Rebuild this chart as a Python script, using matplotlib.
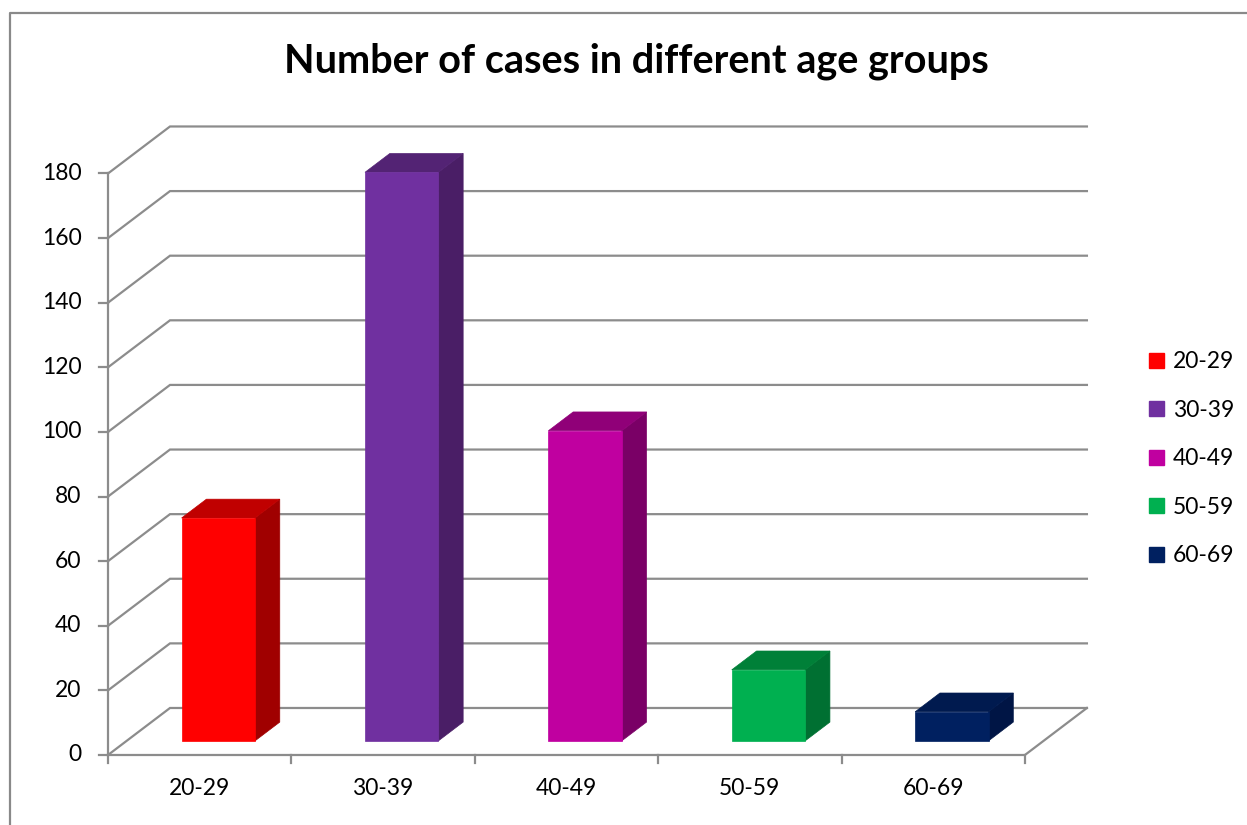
import matplotlib
matplotlib.use("Agg")
import matplotlib.pyplot as plt
from matplotlib.patches import Polygon, Patch
from matplotlib.lines import Line2D

# data
age_groups = ["20-29", "30-39", "40-49", "50-59", "60-69"]
cases = [69, 176, 96, 22, 9]
y_ticks = list(range(0, 181, 20))

front_colors = ["#FF0000", "#7030A0", "#C000A0", "#00B050", "#002060"]
top_colors = ["#C00000", "#532374", "#900078", "#008038", "#001A4F"]
side_colors = ["#A00000", "#4A1E66", "#7A0066", "#007032", "#001545"]

GRID = "#8C8C8C"
FONT = "Lato"
LABEL_SIZE = 16.5

# oblique projection of the depth axis (in category / value units)
DX = 0.338
DY = 14.55
BAR_W = 0.4
D0, D1 = 0.3, 0.7  # bar starts / ends along the depth axis


def project(x, y, d):
    return (x + d * DX, y + d * DY)


fig = plt.figure(figsize=(12.47, 8.25), dpi=100)
ax = fig.add_axes([0, 0, 1, 1])
ax.set_xlim(-0.589, 6.211)
ax.set_ylim(-21.67, 233.7)
ax.axis("off")

n = len(age_groups)

# walls: side + back gridlines
for v in y_ticks:
    ax.plot([0, DX, n + DX], [v, v + DY, v + DY], color=GRID, lw=1.6,
            solid_joinstyle="miter", zorder=1)
    ax.plot([-0.049, 0], [v, v], color=GRID, lw=1.6, zorder=1)
    ax.text(-0.145, v, str(v), ha="right", va="center", fontsize=LABEL_SIZE,
            family=FONT, color="black")

# floor front edge + right edge, left axis line
ax.plot([0, n, n + DX], [0, 0, DY], color=GRID, lw=1.6,
        solid_joinstyle="miter", zorder=1)
ax.plot([0, 0], [0, y_ticks[-1]], color=GRID, lw=1.6, zorder=1)
for i in range(n + 1):
    ax.plot([i, i], [0, -2.5], color=GRID, lw=1.6, zorder=1)

# 3D bars
for i, (val, fc, tc, sc) in enumerate(zip(cases, front_colors, top_colors, side_colors)):
    x0 = i + 0.5 - BAR_W / 2
    x1 = i + 0.5 + BAR_W / 2
    front = [project(x0, 0, D0), project(x1, 0, D0),
             project(x1, val, D0), project(x0, val, D0)]
    top = [project(x0, val, D0), project(x1, val, D0),
           project(x1, val, D1), project(x0, val, D1)]
    side = [project(x1, 0, D0), project(x1, 0, D1),
            project(x1, val, D1), project(x1, val, D0)]
    ax.add_patch(Polygon(side, closed=True, facecolor=sc, edgecolor=sc, lw=0.5, zorder=3))
    ax.add_patch(Polygon(top, closed=True, facecolor=tc, edgecolor=tc, lw=0.5, zorder=3))
    ax.add_patch(Polygon(front, closed=True, facecolor=fc, edgecolor=fc, lw=0.5, zorder=4))
    ax.text(i + 0.5, -10.5, age_groups[i], ha="center", va="center",
            fontsize=LABEL_SIZE, family=FONT, color="black")

ax.text(2.879, 214.6, "Number of cases in different age groups", ha="center",
        va="center", fontsize=28.5, fontweight="bold", family=FONT)

handles = [Patch(facecolor=c, edgecolor=c) for c in front_colors]
fig.legend(handles, age_groups, loc="center left", bbox_to_anchor=(0.912, 0.444),
           frameon=False, prop={"family": FONT, "size": LABEL_SIZE},
           handlelength=0.65, handleheight=0.65, handletextpad=0.4,
           labelspacing=1.2, borderpad=0)

# outer chart frame (left and top edges visible)
fig.add_artist(Line2D([10 / 1247, 10 / 1247, 1.0], [0.0, 1 - 13 / 825, 1 - 13 / 825],
                      transform=fig.transFigure, color="#898989", lw=1.6))

fig.savefig("out.png", dpi=100)
